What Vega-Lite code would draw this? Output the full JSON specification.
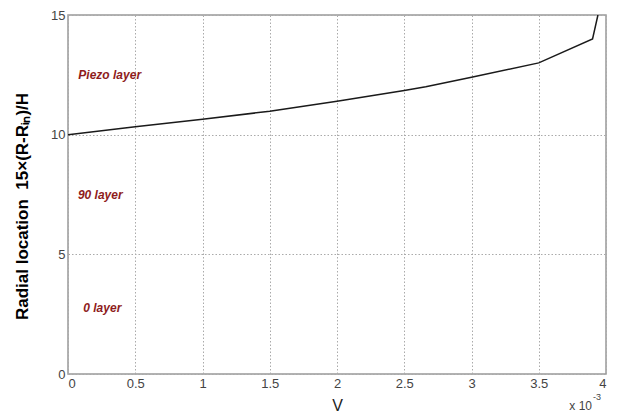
{
  "$schema": "https://vega.github.io/schema/vega-lite/v6.json",
  "width": 538,
  "height": 359,
  "autosize": {"type": "none"},
  "padding": {"left": 68, "top": 15, "right": 14, "bottom": 43},
  "background": "white",
  "config": {
    "view": {"stroke": "#999999", "strokeWidth": 1.5},
    "font": "Liberation Sans"
  },
  "datasets": {
    "curve": [
      {"V": 0.0, "r": 10.0},
      {"V": 0.0005, "r": 10.33},
      {"V": 0.001, "r": 10.64},
      {"V": 0.0015, "r": 10.98},
      {"V": 0.002, "r": 11.4},
      {"V": 0.0025, "r": 11.85},
      {"V": 0.00266, "r": 12.0},
      {"V": 0.003, "r": 12.4},
      {"V": 0.0035, "r": 13.0},
      {"V": 0.0039, "r": 14.0},
      {"V": 0.00394, "r": 15.0}
    ],
    "labels": [
      {"V": 0.00031, "r": 12.5, "label": "Piezo layer"},
      {"V": 0.00024, "r": 7.48, "label": "90 layer"},
      {"V": 0.000255, "r": 2.76, "label": "0 layer"}
    ],
    "scale": [
      {"V": 0.004, "r": 0, "main": "x 10", "exp": "-3"}
    ]
  },
  "layer": [
    {
      "data": {"name": "curve"},
      "mark": {"type": "line", "color": "#1a1a1a", "strokeWidth": 1.5, "clip": true},
      "encoding": {
        "x": {
          "field": "V", "type": "quantitative",
          "scale": {"domain": [0, 0.004], "nice": false, "zero": false},
          "axis": {
            "values": [0, 0.0005, 0.001, 0.0015, 0.002, 0.0025, 0.003, 0.0035, 0.004],
            "labelExpr": "format(datum.value*1000, '~g')",
            "title": "V",
            "titleFont": "Liberation Sans",
            "titleFontSize": 16,
            "titleFontWeight": "normal",
            "titleColor": "#222222",
            "titlePadding": 7,
            "labelFont": "Liberation Sans",
            "labelFontSize": 13,
            "labelColor": "#444444",
            "labelPadding": 3,
            "tickSize": 0,
            "domain": false,
            "grid": true,
            "gridColor": "#aaaaaa",
            "gridDash": [1.5, 2],
            "gridWidth": 1
          }
        },
        "y": {
          "field": "r", "type": "quantitative",
          "scale": {"domain": [0, 15], "nice": false},
          "axis": {
            "values": [0, 5, 10, 15],
            "title": "Radial location\u00a0\u00a015×(R-Rᵢₙ)/H",
            "titleFont": "Liberation Sans",
            "titleFontSize": 17,
            "titleFontWeight": "bold",
            "titleColor": "#000000",
            "titleX": -46,
            "titleY": 191,
            "titleAngle": -90,
            "titleAlign": "center",
            "titleBaseline": "middle",
            "labelFont": "Liberation Sans",
            "labelFontSize": 13,
            "labelColor": "#444444",
            "labelPadding": 3,
            "tickSize": 0,
            "domain": false,
            "grid": true,
            "gridColor": "#aaaaaa",
            "gridDash": [1.5, 2],
            "gridWidth": 1
          }
        }
      }
    },
    {
      "data": {"name": "labels"},
      "mark": {"type": "text", "color": "#8e1c1c", "fontSize": 12, "fontWeight": "bold", "fontStyle": "italic", "font": "Liberation Sans", "align": "center", "baseline": "middle"},
      "encoding": {
        "x": {"field": "V", "type": "quantitative"},
        "y": {"field": "r", "type": "quantitative"},
        "text": {"field": "label"}
      }
    },
    {
      "data": {"name": "scale"},
      "mark": {"type": "text", "align": "right", "baseline": "middle", "dx": -14, "dy": 32, "fontSize": 12, "color": "#444444", "font": "Liberation Sans"},
      "encoding": {
        "x": {"field": "V", "type": "quantitative"},
        "y": {"field": "r", "type": "quantitative"},
        "text": {"field": "main"}
      }
    },
    {
      "data": {"name": "scale"},
      "mark": {"type": "text", "align": "left", "baseline": "middle", "dx": -13, "dy": 23, "fontSize": 9, "color": "#444444", "font": "Liberation Sans"},
      "encoding": {
        "x": {"field": "V", "type": "quantitative"},
        "y": {"field": "r", "type": "quantitative"},
        "text": {"field": "exp"}
      }
    }
  ]
}
